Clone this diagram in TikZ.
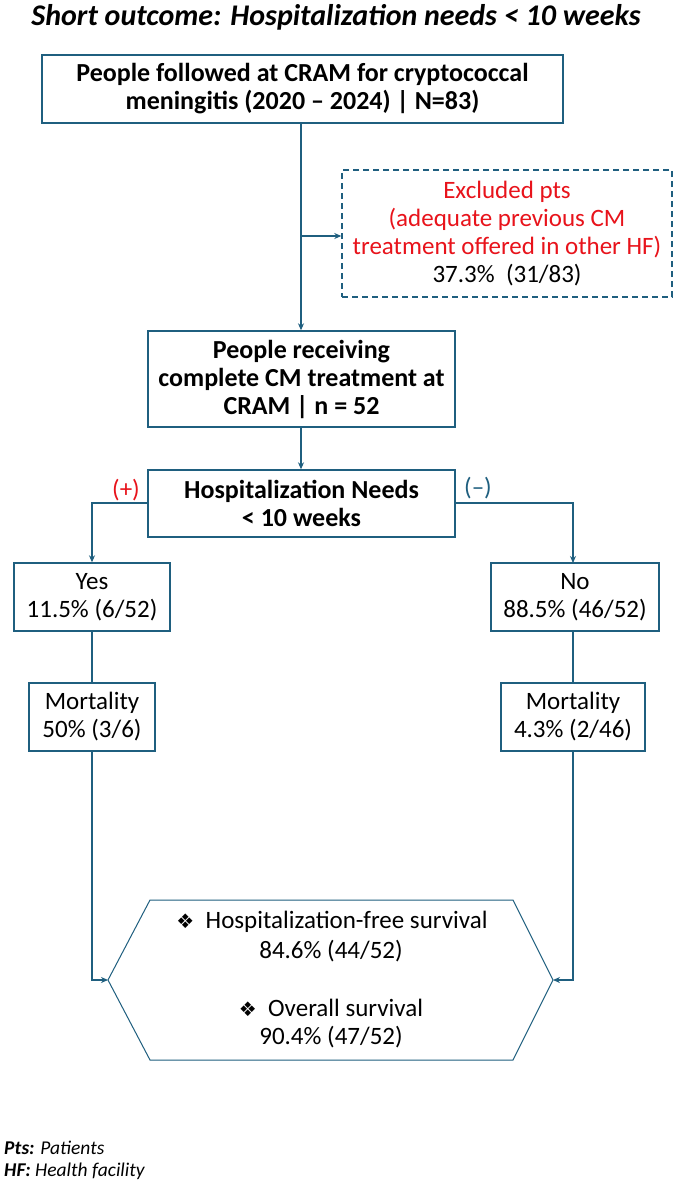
\documentclass[tikz,border=0pt]{standalone}
\usepackage{fontspec}
\setmainfont{Carlito}
\newfontfamily\symfont{DejaVu Sans}
\usetikzlibrary{arrows.meta}
\definecolor{lineblue}{RGB}{31,95,127}
\definecolor{redtxt}{RGB}{232,19,27}
\tikzset{
  box/.style={draw=lineblue, line width=1.4pt, align=center, inner sep=0pt,
    font=\fontsize{25}{28}\selectfont},
  bbox/.style={box, font=\fontsize{26}{28}\selectfont\bfseries},
  conn/.style={draw=lineblue, line width=1.6pt},
  arr/.style={conn, -{Stealth[length=7pt,width=6pt]}},
  txt/.style={inner sep=0pt, align=center, font=\fontsize{25}{28}\selectfont},
}
\newcommand{\dia}{{\symfont\fontsize{20}{20}\selectfont ❖}}
\begin{document}
\begin{tikzpicture}[x=1pt,y=-1pt]
\useasboundingbox (0,0) rectangle (682,1184);
\fill[white] (0,0) rectangle (682,1184);
% title
\node[inner sep=0pt, font=\fontsize{30}{32}\selectfont\bfseries\itshape] (title) at (336,17)
  {Short outcome: Hospitalization needs < 10 weeks};
% boxes
\node[bbox, minimum width=521, minimum height=68] (b1) at (302.5,89)
  {People followed at CRAM for cryptococcal\\meningitis (2020 – 2024) | N=83)};
\node[box, dashed, dash pattern=on 6pt off 4pt, minimum width=330, minimum height=127] (ex) at (507,233.5)
  {\textcolor{redtxt}{Excluded pts}\\\textcolor{redtxt}{(adequate previous CM}\\\textcolor{redtxt}{treatment offered in other HF)}\\37.3\%\ \ (31/83)};
\node[bbox, minimum width=307, minimum height=96] (b2) at (301.5,379)
  {People receiving\\complete CM treatment at\\CRAM | n = 52};
\node[bbox, minimum width=307, minimum height=67] (b3) at (301.5,503.5)
  {Hospitalization Needs\\< 10 weeks};
\node[box, minimum width=156, minimum height=68] (yes) at (92,597)
  {Yes\\11.5\% (6/52)};
\node[box, minimum width=168, minimum height=68] (no) at (575,597)
  {No\\88.5\% (46/52)};
\node[box, minimum width=126, minimum height=68] (ml) at (92,717)
  {Mortality\\50\% (3/6)};
\node[box, minimum width=144, minimum height=68] (mr) at (573,717)
  {Mortality\\4.3\% (2/46)};
% hexagon
\coordinate (hl) at (108,980);
\coordinate (hr) at (553,980);
\draw[conn, line width=1pt] (hl) -- (150,900) -- (513,900) -- (hr) -- (513,1060) -- (150,1060) -- cycle;
\node[txt] (h1) at (332,922) {\dia\ \ Hospitalization-free survival};
\node[txt] (h2) at (331,951) {84.6\% (44/52)};
\node[txt] (h3) at (331,1008) {\dia\ \ Overall survival};
\node[txt] (h4) at (331,1037) {90.4\% (47/52)};
% branch labels
\node[txt, text=redtxt] (plus) at (126,490) {(+)};
\node[txt, text=lineblue] (minus) at (478,488) {(–)};
% connectors
\draw[arr] (b1.south -| 301,0) -- (b2.north -| 301,0);
\coordinate (bp) at (301,236);
\draw[arr] (bp) -- (bp -| ex.west);
\draw[arr] (b2.south -| 301,0) -- (b3.north -| 301,0);
\draw[arr] (b3.west |- 0,503) -| (yes.north);
\draw[arr] (b3.east |- 0,503) -| (573,563) coordinate (nt);
\draw[conn] (yes.south) -- (ml.north);
\draw[conn] (no.south -| 573,0) -- (mr.north);
\draw[arr] (ml.south) |- (hl);
\draw[arr] (mr.south) |- (hr);
% footnote
\node[inner sep=0pt, anchor=west, font=\fontsize{19.5}{22}\selectfont\itshape] (fn1) at (4,1148)
  {\textbf{Pts:} Patients};
\node[inner sep=0pt, anchor=west, font=\fontsize{19.5}{22}\selectfont\itshape] (fn2) at (4,1171)
  {\textbf{HF:} Health facility};
\end{tikzpicture}
\end{document}
